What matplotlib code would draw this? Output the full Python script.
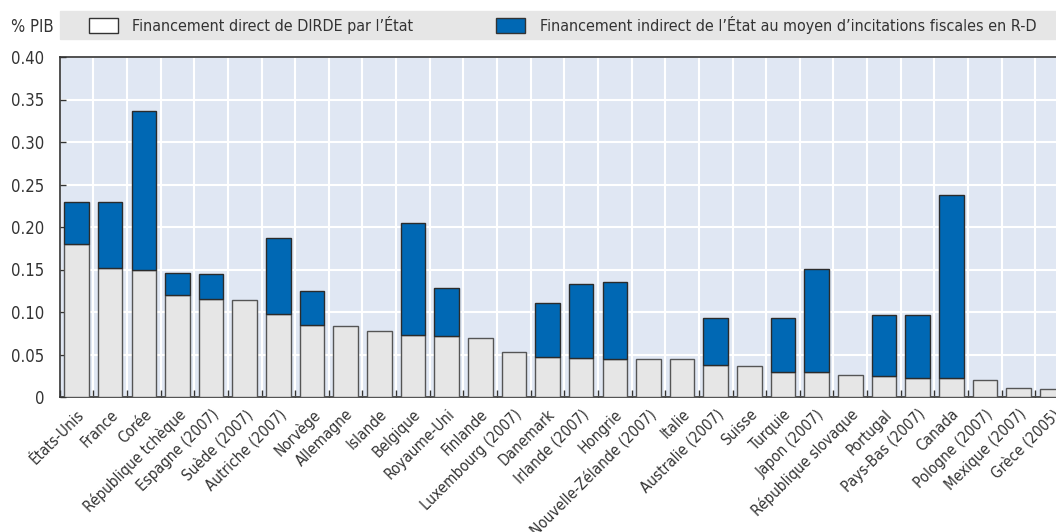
import matplotlib.pyplot as plt
from matplotlib.patches import Rectangle
import numpy as np

plt.rcParams['font.family'] = ['DejaVu Sans']
plt.rcParams['font.stretch'] = 'condensed'

# Données (% du PIB)
pays = [
    "États-Unis", "France", "Corée", "République tchèque", "Espagne (2007)",
    "Suède (2007)", "Autriche (2007)", "Norvège", "Allemagne", "Islande",
    "Belgique", "Royaume-Uni", "Finlande", "Luxembourg (2007)", "Danemark",
    "Irlande (2007)", "Hongrie", "Nouvelle-Zélande (2007)", "Italie",
    "Australie (2007)", "Suisse", "Turquie", "Japon (2007)",
    "République slovaque", "Portugal", "Pays-Bas (2007)", "Canada",
    "Pologne (2007)", "Mexique (2007)", "Grèce (2005)",
]
direct = [
    0.180, 0.152, 0.150, 0.120, 0.115, 0.114, 0.098, 0.085, 0.083, 0.078,
    0.073, 0.072, 0.070, 0.053, 0.047, 0.046, 0.045, 0.045, 0.045, 0.038,
    0.036, 0.030, 0.029, 0.026, 0.025, 0.022, 0.022, 0.020, 0.011, 0.010,
]
indirect = [
    0.049, 0.077, 0.187, 0.026, 0.030, 0.0, 0.089, 0.040, 0.0, 0.0,
    0.132, 0.056, 0.0, 0.0, 0.064, 0.087, 0.090, 0.0, 0.0, 0.055,
    0.0, 0.063, 0.122, 0.0, 0.071, 0.074, 0.2155, 0.0, 0.0, 0.0,
]
legende = [
    "Financement direct de DIRDE par l’État",
    "Financement indirect de l’État au moyen d’incitations fiscales en R-D",
]
y_ticks = [0, 0.05, 0.10, 0.15, 0.20, 0.25, 0.30, 0.35, 0.40]

GRIS = "#e6e6e6"
BLEU = "#0068b4"
TEXTE = "#333333"
W, H = 1056, 532

fig = plt.figure(figsize=(W / 100, H / 100), dpi=100)
# l'axe dépasse à droite, comme dans l'original (graphique rogné)
ax = fig.add_axes([59.7 / W, 1 - 397 / H, (1069 - 59.7) / W, (397 - 57) / H])
ax.set_facecolor("#e0e7f3")

x = np.arange(len(pays))
direct = np.array(direct)
indirect = np.array(indirect)
ax.bar(x, direct, width=0.73, color=GRIS, edgecolor="#555555", linewidth=1.0, zorder=3)
m = indirect > 0
ax.bar(x[m], indirect[m], bottom=direct[m], width=0.73, color=BLEU,
       edgecolor="#2b2b2b", linewidth=1.0, zorder=3)

ax.set_xlim(-0.5, len(pays) - 0.5)
ax.set_ylim(0, 0.40)
ax.set_yticks(y_ticks)
ax.set_yticklabels(["0" if v == 0 else f"{v:.2f}" for v in y_ticks])
ax.set_xticks(x)
ax.set_xticklabels(pays, rotation=45, ha="right", rotation_mode="anchor")
ax.set_xticks(np.arange(-0.5, len(pays), 1), minor=True)

ax.tick_params(axis="x", which="major", length=0, pad=7, labelsize=11, labelcolor=TEXTE)
ax.tick_params(axis="x", which="minor", direction="in", length=5, width=1, color="#333333")
ax.tick_params(axis="y", direction="in", length=4, width=1, color="#333333",
               pad=11, labelsize=12, labelcolor=TEXTE)

ax.grid(which="minor", axis="x", color="white", linewidth=1.5)
ax.grid(which="major", axis="y", color="white", linewidth=1.5)
ax.set_axisbelow(True)
for s in ax.spines.values():
    s.set_color("#333333")
    s.set_linewidth(1.2)

# bandeau de légende
fig.patches.append(Rectangle((60 / W, 1 - 39 / H), (W - 60) / W, 28 / H,
                             transform=fig.transFigure, color=GRIS, zorder=0))
fig.text(11 / W, 1 - 27.5 / H, "% PIB", va="center", fontsize=12, color=TEXTE)
for x0, couleur, ec, label, xt in [
    (88.5, "white", "#333333", legende[0], 132.5),
    (495.7, BLEU, "#333333", legende[1], 540),
]:
    fig.patches.append(Rectangle((x0 / W, 1 - 32.5 / H), 29 / W, 14.5 / H,
                                 transform=fig.transFigure, facecolor=couleur,
                                 edgecolor=ec, linewidth=1))
    fig.text(xt / W, 1 - 25.5 / H, label, va="center", fontsize=11.5, color=TEXTE)

fig.savefig("out.png", dpi=100)
